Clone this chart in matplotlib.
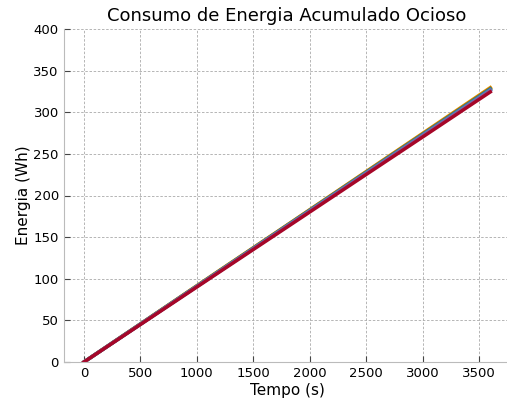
import numpy as np
import matplotlib.pyplot as plt

# tempo (s) e energia acumulada (Wh) de cada maquina
tempo = [0, 600, 1200, 1800, 2400, 3000, 3600]
e_amarelo = [0, 55.0, 110.0, 164.6, 219.6, 274.6, 329.6]
e_laranja = [0, 54.8, 109.6, 164.3, 219.1, 273.9, 328.7]
e_verde = [0, 54.7, 109.4, 164.0, 218.7, 273.3, 327.9]
e_azul = [0, 54.6, 109.1, 163.6, 218.1, 272.6, 327.0]
e_roxo = [0, 54.4, 108.8, 163.2, 217.6, 272.0, 326.2]
e_vermelho = [0, 54.0, 108.1, 162.1, 216.2, 270.2, 324.4]

series = [e_amarelo, e_laranja, e_verde, e_azul, e_roxo, e_vermelho]
cores = ['#E2A600', '#D55E00', '#188487', '#348ABD', '#7A68A6', '#A60628']

fig = plt.figure(figsize=(5.07, 4.0), dpi=100)
ax = fig.add_axes([0.1256, 0.095, 0.8815, 0.8325])

for e, c in zip(series, cores):
    ax.plot(tempo, e, color=c, linewidth=2.5)

ax.set_xlim(-180, 3780)
ax.set_ylim(0, 400)
ax.set_xticks(np.arange(0, 3501, 500))
ax.set_yticks(np.arange(0, 401, 50))
ax.grid(True, linestyle=(0, (3, 2)), color='#aaaaaa', linewidth=0.6)
ax.set_axisbelow(True)
for s in ['top', 'right']:
    ax.spines[s].set_visible(False)
for s in ['left', 'bottom']:
    ax.spines[s].set_color('#bbbbbb')
ax.tick_params(direction='in', length=4, color='#444444', labelsize=9.5)

ax.set_title('Consumo de Energia Acumulado Ocioso', fontsize=13)
ax.set_xlabel('Tempo (s)', fontsize=11, labelpad=2)
ax.set_ylabel('Energia (Wh)', fontsize=11, labelpad=2)

fig.savefig('out.png', dpi=100)
